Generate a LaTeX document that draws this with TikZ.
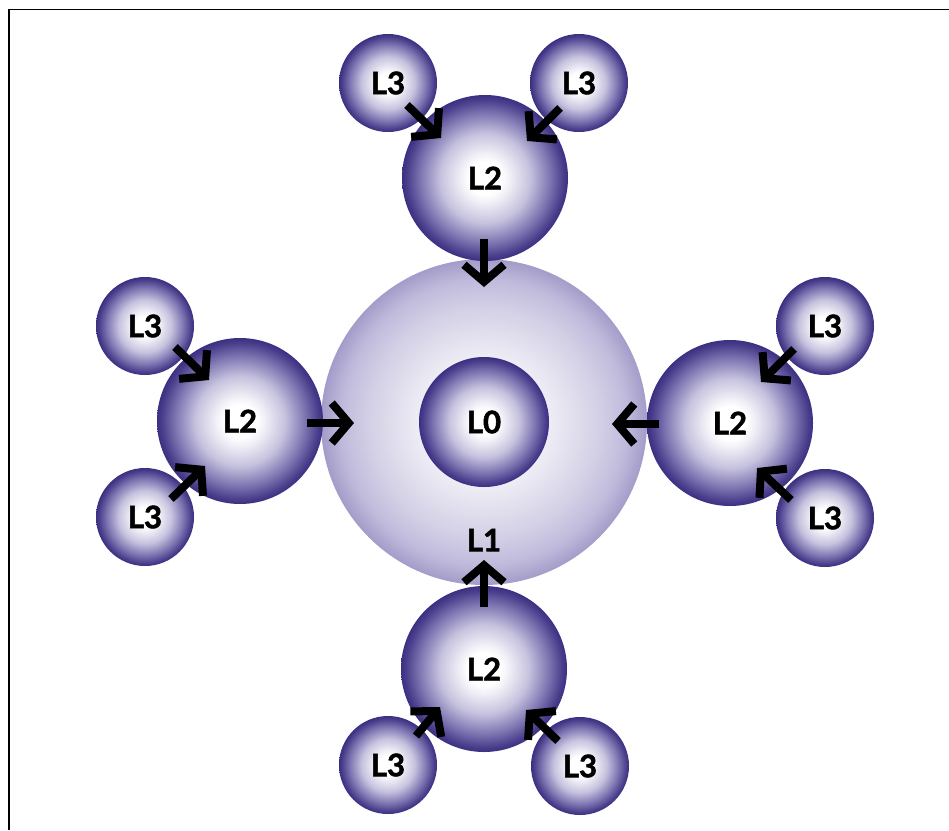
\documentclass[tikz,border=0pt]{standalone}
\usepackage{fontspec}
\setmainfont{Lato}
\newfontfamily\lblfont{Lato}[BoldFeatures={FakeBold=1.8}]
\usetikzlibrary{arrows.meta}
\definecolor{dark}{HTML}{3B2F82}
\definecolor{lvA}{HTML}{F0EFF6}
\definecolor{lvB}{HTML}{C6C2DE}
\definecolor{lvC}{HTML}{7D76B2}
\definecolor{lvD}{HTML}{4A3F8C}
\definecolor{bgA}{HTML}{F8F7FB}
\definecolor{bgB}{HTML}{EEEDF5}
\definecolor{bgC}{HTML}{D2CEE5}
\definecolor{bgD}{HTML}{BFBADB}
\definecolor{bgE}{HTML}{A39CC9}
\pgfdeclareradialshading{ballshade}{\pgfpoint{0bp}{0bp}}{color(0bp)=(white); color(5bp)=(white); color(7.5bp)=(lvA); color(13.5bp)=(lvB); color(19.5bp)=(lvC); color(23.5bp)=(lvD); color(25bp)=(dark); color(50bp)=(dark)}
\pgfdeclareradialshading{bigshade}{\pgfpoint{0bp}{0bp}}{color(0bp)=(bgA); color(10bp)=(bgB); color(18bp)=(bgC); color(22bp)=(bgD); color(25bp)=(bgE); color(50bp)=(bgE)}
\begin{document}
\begin{tikzpicture}[x=1pt,y=-1pt,
  lbl/.style={font=\lblfont\bfseries\fontsize{31}{31}\selectfont},
  ball/.style={circle, inner sep=0pt, shading=ballshade, lbl},
  lthree/.style={ball, minimum size=98pt},
  ltwo/.style={ball, minimum size=166pt},
  lzero/.style={ball, minimum size=130pt},
  lone/.style={circle, inner sep=0pt, minimum size=326pt, shading=bigshade},
  flow/.style={line width=8pt, line join=miter, -{Straight Barb[length=17pt,width=40pt,line join=miter]}},
  frameline/.style={line width=1.3pt, black}]
\useasboundingbox (0,0) rectangle (949,830);
\coordinate (fa) at (9,830);
\coordinate (fb) at (9,9.5);
\coordinate (fc) at (949,9.5);
\draw[frameline] (fa) -- (fb) -- (fc);
% L1
\node[lone] (l1) at (484,422) {};
\node[lbl] (l1t) at (484,540) {L1};
% L2
\node[ltwo] (l2t) at (485,178) {L2};
\node[ltwo] (l2l) at (240,421) {L2};
\node[ltwo] (l2r) at (730,423) {L2};
\node[ltwo] (l2b) at (484,669) {L2};
% L0
\node[lzero] (l0) at (484,422) {L0};
% L3
\node[lthree] (l3tl) at (388,83) {L3};
\node[lthree] (l3tr) at (579,83) {L3};
\node[lthree] (l3lt) at (145,326) {L3};
\node[lthree] (l3lb) at (145,517) {L3};
\node[lthree] (l3rt) at (825,326) {L3};
\node[lthree] (l3rb) at (825,518) {L3};
\node[lthree] (l3bl) at (388,765) {L3};
\node[lthree] (l3br) at (580,766) {L3};
% arrow end points
\coordinate (a1s) at (484,239); \coordinate (a1e) at (484,287);
\coordinate (a2s) at (307,423); \coordinate (a2e) at (354,423);
\coordinate (a3s) at (659,424); \coordinate (a3e) at (612,424);
\coordinate (a4s) at (484,607); \coordinate (a4e) at (484,560);
\coordinate (b1s) at (407,105); \coordinate (b1e) at (441,138);
\coordinate (b2s) at (560,108); \coordinate (b2e) at (527,141);
\coordinate (b3s) at (175,347); \coordinate (b3e) at (209,380);
\coordinate (b4s) at (171,499); \coordinate (b4e) at (205,466);
\coordinate (b5s) at (794,349); \coordinate (b5e) at (761,382);
\coordinate (b6s) at (791,500); \coordinate (b6e) at (757,468);
\coordinate (b7s) at (416,736); \coordinate (b7e) at (440,707);
\coordinate (b8s) at (558,741); \coordinate (b8e) at (526,710);
\foreach \s/\e in {a1s/a1e,a2s/a2e,a3s/a3e,a4s/a4e,b1s/b1e,b2s/b2e,b3s/b3e,b4s/b4e,b5s/b5e,b6s/b6e,b7s/b7e,b8s/b8e}
  \draw[flow] (\s) -- (\e);
\end{tikzpicture}
\end{document}
